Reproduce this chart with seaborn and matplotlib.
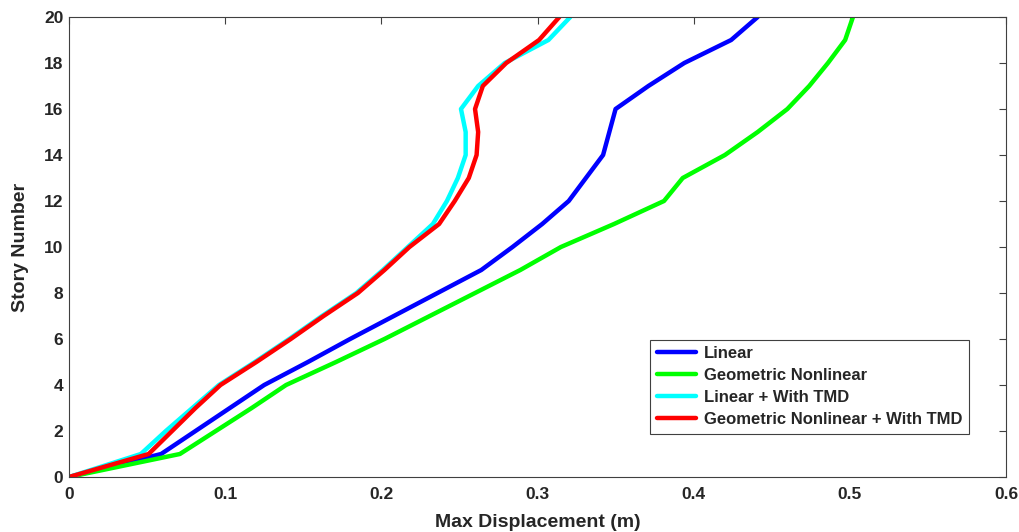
import numpy as np
import pandas as pd
import seaborn as sns
from matplotlib import pyplot as plt

# Story levels
stories = list(range(21))

# Max displacement (m) per story
linear = [0, 0.059, 0.081, 0.103, 0.125, 0.153, 0.180, 0.208, 0.236, 0.264, 0.284,
          0.303, 0.320, 0.331, 0.342, 0.346, 0.350, 0.371, 0.394, 0.424, 0.441]
geo_nonlinear = [0, 0.071, 0.094, 0.117, 0.139, 0.171, 0.202, 0.231, 0.260, 0.289, 0.315,
                 0.349, 0.381, 0.393, 0.420, 0.441, 0.460, 0.474, 0.486, 0.497, 0.502]
linear_tmd = [0, 0.046, 0.062, 0.079, 0.096, 0.119, 0.141, 0.162, 0.184, 0.201, 0.217,
              0.233, 0.242, 0.249, 0.254, 0.254, 0.251, 0.262, 0.279, 0.307, 0.321]
geo_nonlinear_tmd = [0, 0.051, 0.066, 0.081, 0.097, 0.120, 0.142, 0.163, 0.185, 0.202, 0.218,
                     0.237, 0.247, 0.256, 0.261, 0.262, 0.260, 0.265, 0.280, 0.301, 0.314]

labels = ['Linear', 'Geometric Nonlinear', 'Linear + With TMD', 'Geometric Nonlinear + With TMD']
colors = ['#0000ff', '#00ff00', '#00ffff', '#ff0000']

# Long format for seaborn
frames = []
for name, vals in zip(labels, [linear, geo_nonlinear, linear_tmd, geo_nonlinear_tmd]):
    frames.append(pd.DataFrame({'disp': vals, 'story': stories, 'case': name}))
df = pd.concat(frames, ignore_index=True)

sns.set_style('white')
plt.rcParams['font.family'] = ['Liberation Sans', 'DejaVu Sans']
plt.rcParams['font.weight'] = 'bold'

fig = plt.figure(figsize=(10.19, 5.32), dpi=100)
ax = fig.add_axes([69 / 1019, 1 - 477 / 532, (1006 - 69) / 1019, (477 - 17) / 532])

sns.lineplot(data=df, x='disp', y='story', hue='case', palette=dict(zip(labels, colors)),
             sort=False, estimator=None, linewidth=3.2, ax=ax)

ax.set_xlim(0, 0.6)
ax.set_ylim(0, 20)
ax.set_xticks(np.arange(0, 0.61, 0.1))
ax.set_xticklabels(['0', '0.1', '0.2', '0.3', '0.4', '0.5', '0.6'])
ax.set_yticks(range(0, 21, 2))

ax.tick_params(direction='in', top=True, right=True, length=5, width=0.8,
               color='#404040', labelcolor='#262626', labelsize=12.5)
ax.tick_params(axis='x', pad=7)
ax.tick_params(axis='y', pad=4)
for lab in ax.get_xticklabels() + ax.get_yticklabels():
    lab.set_fontweight('bold')
for sp in ax.spines.values():
    sp.set_color('#404040')
    sp.set_linewidth(0.8)

ax.set_xlabel('Max Displacement (m)', fontsize=14, fontweight='bold', color='#262626', labelpad=9)
ax.set_ylabel('Story Number', fontsize=14, fontweight='bold', color='#262626', labelpad=11)

leg = ax.legend(loc='lower right', bbox_to_anchor=(0.9605, 0.0935), borderaxespad=0,
                fontsize=12, frameon=True, fancybox=False, edgecolor='#404040', framealpha=1,
                handlelength=2.35, handletextpad=0.45, borderpad=0.4, labelspacing=0.42)
for t in leg.get_texts():
    t.set_fontweight('bold')
leg.get_frame().set_linewidth(0.8)

fig.savefig('out.png', dpi=100)
